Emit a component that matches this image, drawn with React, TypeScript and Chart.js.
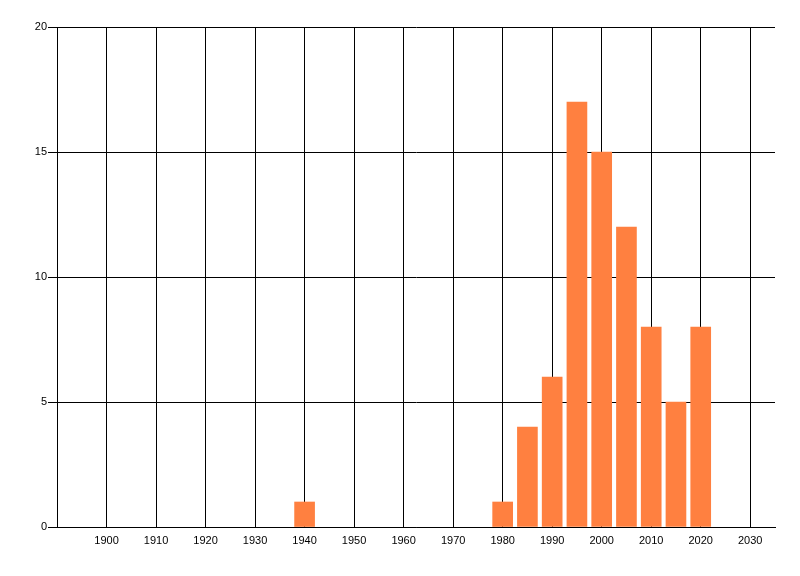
import React, { useEffect, useRef } from 'react';
import { Chart, registerables } from 'chart.js';

Chart.register(...registerables);

// bar positions (years) and their counts
const years = [1940, 1980, 1985, 1990, 1995, 2000, 2005, 2010, 2015, 2020];
const counts = [1, 1, 4, 6, 17, 15, 12, 8, 5, 8];

// tick labels
const xTicks = [1900, 1910, 1920, 1930, 1940, 1950, 1960, 1970, 1980, 1990, 2000, 2010, 2020, 2030];
const yTicks = [0, 5, 10, 15, 20];

const App: React.FC = () => {
  const chartRef = useRef<HTMLCanvasElement | null>(null);
  const myChart = useRef<Chart | null>(null);

  useEffect(() => {
    if (!chartRef.current) return;
    const ctx = chartRef.current.getContext('2d');
    if (!ctx) return;

    if (myChart.current) {
      myChart.current.destroy();
    }

    const font = { family: '"Liberation Sans", Arial, sans-serif', size: 11 };

    myChart.current = new Chart(ctx, {
      type: 'bar',
      data: {
        datasets: [
          {
            data: years.map((x, i) => ({ x, y: counts[i] })),
            backgroundColor: 'rgb(255,128,64)',
            borderWidth: 0,
            barThickness: 20,
          },
        ],
      },
      options: {
        animation: false,
        responsive: true,
        maintainAspectRatio: false,
        layout: { padding: { top: 27, right: 25, left: 0, bottom: 0 } },
        plugins: { legend: { display: false }, tooltip: { enabled: false } },
        scales: {
          x: {
            type: 'linear',
            min: 1890,
            max: 2035,
            offset: false,
            afterBuildTicks: (axis: any) => {
              axis.ticks = xTicks.map((v) => ({ value: v }));
            },
            afterFit: (axis: any) => {
              axis.height = 49;
            },
            ticks: {
              autoSkip: false,
              maxRotation: 0,
              color: '#000',
              font,
              padding: 7,
              callback: (v: any) => String(v),
            },
            grid: { color: '#000', lineWidth: 1, drawTicks: false, offset: false },
            border: { color: '#000', width: 1 },
          },
          y: {
            type: 'linear',
            min: 0,
            max: 20,
            afterBuildTicks: (axis: any) => {
              axis.ticks = yTicks.map((v) => ({ value: v }));
            },
            afterFit: (axis: any) => {
              axis.width = 57;
            },
            ticks: {
              color: '#000',
              font,
              padding: 1,
              callback: (v: any) => String(v),
            },
            grid: { color: '#000', lineWidth: 1, tickLength: 9 },
            border: { color: '#000', width: 1 },
          },
        },
      },
    });

    return () => {
      if (myChart.current) {
        myChart.current.destroy();
        myChart.current = null;
      }
    };
  }, []);

  return (
    <div style={{ position: 'absolute', left: 0, top: 0, width: 800, height: 576, background: '#fff' }}>
      <canvas ref={chartRef}></canvas>
    </div>
  );
};

export default App;
